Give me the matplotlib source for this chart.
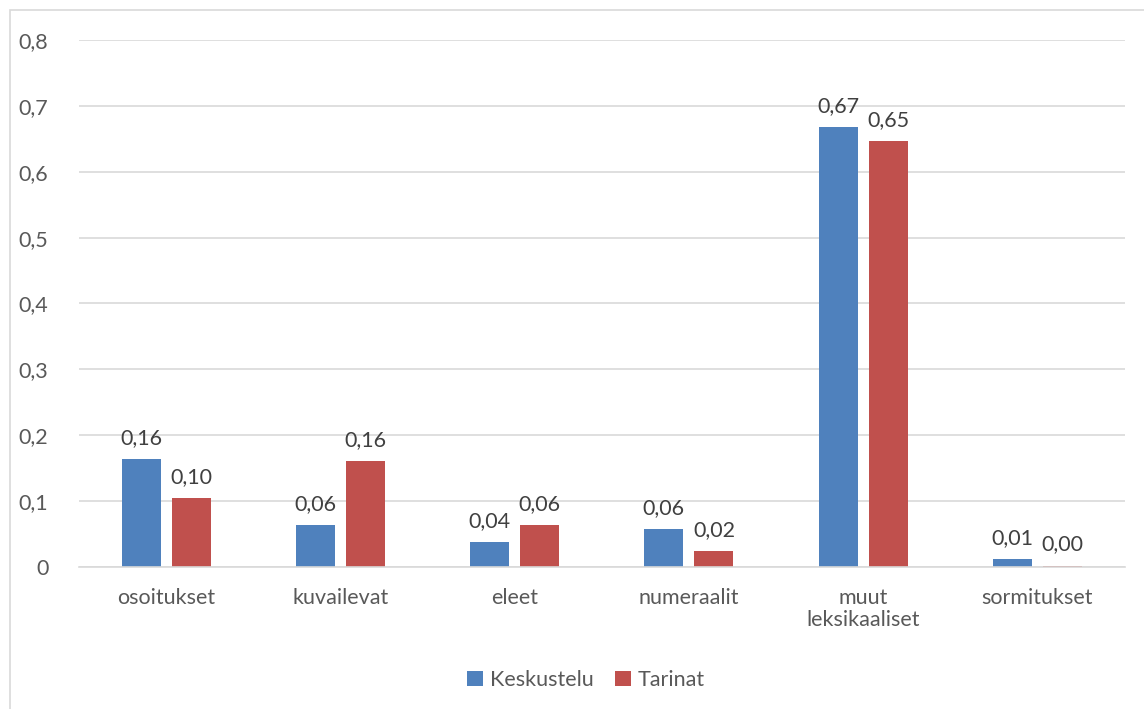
import matplotlib.pyplot as plt
import numpy as np
from matplotlib.patches import Rectangle

categories = ["osoitukset", "kuvailevat", "eleet", "numeraalit", "muut\nleksikaaliset", "sormitukset"]
keskustelu = [0.164, 0.064, 0.038, 0.058, 0.668, 0.012]
tarinat = [0.104, 0.161, 0.063, 0.024, 0.646, 0.002]
series_names = ["Keskustelu", "Tarinat"]
yticks = [0, 0.1, 0.2, 0.3, 0.4, 0.5, 0.6, 0.7, 0.8]

plt.rcParams["font.family"] = ["Lato", "DejaVu Sans"]

fig = plt.figure(figsize=(11.44, 7.09), dpi=100)
ax = fig.add_axes([0.069, 0.2003, 0.914, 0.7433])

# outer chart border
fig.patches.append(Rectangle((10 / 1144, -0.1), 1.2, 1.1 - 10 / 709, transform=fig.transFigure,
                             fill=False, edgecolor="#d9d9d9", linewidth=1.2))

x = np.arange(len(categories))
w = 0.224
gap = 0.063
off = (w + gap) / 2
b1 = ax.bar(x - off, keskustelu, w, color="#4f81bd", label=series_names[0])
b2 = ax.bar(x + off, tarinat, w, color="#c0504d", label=series_names[1])

for bars, vals in ((b1, keskustelu), (b2, tarinat)):
    for b, v in zip(bars, vals):
        ax.annotate(f"{v:.2f}".replace(".", ","), (b.get_x() + b.get_width() / 2, v),
                    xytext=(0, 8), textcoords="offset points", ha="center", va="bottom",
                    fontsize=15.5, color="#404040")

ax.set_xlim(-0.5, len(categories) - 0.5)
ax.set_ylim(0, 0.8)
ax.set_yticks(yticks)
ax.set_yticklabels([f"{t:.1f}".replace(".", ",") if t else "0" for t in yticks])
ax.set_xticks(x)
ax.set_xticklabels(categories, linespacing=1.15)
ax.tick_params(length=0, labelsize=15.5, labelcolor="#595959")
ax.tick_params(axis="y", pad=22)
ax.tick_params(axis="x", pad=15)
ax.grid(axis="y", color="#d9d9d9", linewidth=1.2)
ax.set_axisbelow(True)
for s in ("top", "right", "left"):
    ax.spines[s].set_visible(False)
ax.spines["bottom"].set_color("#d9d9d9")
ax.spines["bottom"].set_linewidth(1.2)

fig.legend(loc="center", bbox_to_anchor=(586 / 1144, 1 - 680 / 709), ncol=2, frameon=False,
           fontsize=15.5, labelcolor="#595959", handlelength=0.75, handleheight=0.75,
           handletextpad=0.3, columnspacing=1.0)

fig.savefig("out.png", dpi=100)
